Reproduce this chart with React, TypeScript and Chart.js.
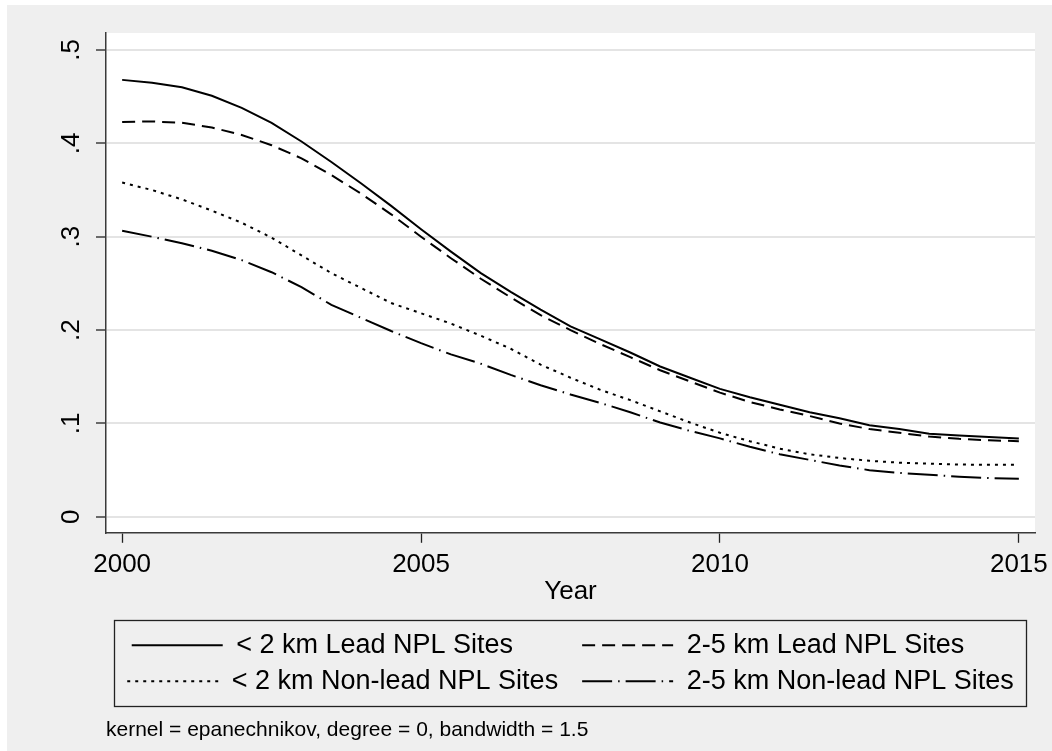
import React, { useEffect, useRef } from "react";
import { Chart, registerables } from "chart.js";

Chart.register(...registerables);

// ---- data ----
const years = [
  2000, 2000.5, 2001, 2001.5, 2002, 2002.5, 2003, 2003.5, 2004, 2004.5, 2005,
  2005.5, 2006, 2006.5, 2007, 2007.5, 2008, 2008.5, 2009, 2009.5, 2010,
  2010.5, 2011, 2011.5, 2012, 2012.5, 2013, 2013.5, 2014, 2014.5, 2015,
];
const leadNear = [
  0.468, 0.465, 0.46, 0.451, 0.438, 0.422, 0.402, 0.38, 0.357, 0.333, 0.308,
  0.284, 0.261, 0.241, 0.222, 0.204, 0.19, 0.176, 0.161, 0.149, 0.137,
  0.128, 0.12, 0.112, 0.1055, 0.098, 0.094, 0.089, 0.087, 0.0855, 0.084,
];
const leadFar = [
  0.423, 0.4235, 0.422, 0.417, 0.409, 0.398, 0.384, 0.366, 0.346, 0.324, 0.3,
  0.277, 0.255, 0.235, 0.216, 0.2, 0.185, 0.171, 0.157, 0.145, 0.133,
  0.123, 0.115, 0.108, 0.1, 0.094, 0.09, 0.086, 0.0835, 0.082, 0.081,
];
const nonLeadNear = [
  0.358, 0.35, 0.34, 0.328, 0.315, 0.299, 0.28, 0.261, 0.245, 0.229, 0.218,
  0.207, 0.194, 0.18, 0.163, 0.149, 0.136, 0.125, 0.113, 0.101, 0.09,
  0.081, 0.073, 0.067, 0.063, 0.06, 0.058, 0.057, 0.056, 0.0557, 0.0557,
];
const nonLeadFar = [
  0.3065, 0.3, 0.293, 0.285, 0.275, 0.262, 0.246, 0.227, 0.213, 0.199, 0.186,
  0.174, 0.164, 0.152, 0.141, 0.131, 0.122, 0.112, 0.101, 0.092, 0.084,
  0.075, 0.067, 0.061, 0.055, 0.05, 0.047, 0.045, 0.043, 0.0415, 0.0407,
];
const seriesLabels = [
  "< 2 km Lead NPL Sites",
  "2-5 km Lead NPL Sites",
  "< 2 km Non-lead NPL Sites",
  "2-5 km Non-lead NPL Sites",
];
const xTickValues = [2000, 2005, 2010, 2015];
const yTickValues = [0, 0.1, 0.2, 0.3, 0.4, 0.5];
const yTickLabels = ["0", ".1", ".2", ".3", ".4", ".5"];
const xTitle = "Year";
const noteText = "kernel = epanechnikov, degree = 0, bandwidth = 1.5";

// ---- styles ----
const FONT = '"Liberation Sans", Arial, Helvetica, sans-serif';
const LEGEND_SIZE = 27;
const dashes: number[][] = [[], [13, 7], [3, 5], [30, 6, 1.5, 6]];

function padLabels(labels: string[]): string[] {
  const ctx = document.createElement("canvas").getContext("2d");
  if (!ctx) return labels;
  ctx.font = `${LEGEND_SIZE}px ${FONT}`;
  const w = (s: string) => ctx.measureText(s).width;
  const col1 = Math.max(w(labels[0]), w(labels[2])) + 2 * w(" ");
  const col2 = Math.max(w(labels[1]), w(labels[3]));
  return labels.map((s, i) => {
    const target = i % 2 === 0 ? col1 : col2;
    let out = s;
    while (w(out + " ") <= target + 2) out += " ";
    return out;
  });
}

const whitePlot = {
  id: "whitePlot",
  beforeDraw(chart: any) {
    const { ctx, chartArea } = chart;
    ctx.save();
    ctx.fillStyle = "#ffffff";
    ctx.fillRect(chartArea.left, chartArea.top, chartArea.right - chartArea.left, chartArea.bottom - chartArea.top);
    ctx.restore();
  },
};

const legendFrame = {
  id: "legendFrame",
  afterDraw(chart: any) {
    const { ctx, chartArea, legend } = chart;
    if (!legend) return;
    ctx.save();
    ctx.strokeStyle = "#222";
    ctx.lineWidth = 1.3;
    ctx.strokeRect(
      Math.round(chartArea.left + 8) + 0.5,
      Math.round(legend.top - 3) + 0.5,
      Math.round(chartArea.right - chartArea.left - 17),
      Math.round(legend.height + 4)
    );
    ctx.restore();
  },
};

export default function App() {
  const ref = useRef<HTMLCanvasElement | null>(null);

  useEffect(() => {
    if (!ref.current) return;
    const series = [leadNear, leadFar, nonLeadNear, nonLeadFar];
    const padded = padLabels(seriesLabels);
    const chart = new Chart(ref.current, {
      type: "line",
      data: {
        datasets: series.map((vals, i) => ({
          label: seriesLabels[i],
          data: years.map((x, j) => ({ x, y: vals[j] })),
          borderColor: "#000",
          backgroundColor: "#000",
          borderWidth: 2,
          borderDash: dashes[i],
          borderCapStyle: "butt",
          pointRadius: 0,
          tension: 0,
          fill: false,
        })),
      },
      options: {
        responsive: false,
        animation: false,
        devicePixelRatio: 1,
        layout: { padding: { left: 30, right: 17, top: 28, bottom: 8 } },
        scales: {
          x: {
            type: "linear",
            min: 1999.73,
            max: 2015.27,
            afterBuildTicks: (s: any) => {
              s.ticks = xTickValues.map((v) => ({ value: v }));
            },
            afterFit: (s: any) => {
              s.height = 90;
              s.paddingLeft = 0;
              s.paddingRight = 0;
            },
            ticks: {
              autoSkip: false,
              maxRotation: 0,
              minRotation: 0,
              padding: 6,
              color: "#000",
              font: { family: FONT, size: 26 },
              callback: (v: any) => String(v),
            },
            grid: {
              drawOnChartArea: false,
              drawTicks: true,
              tickLength: 10,
              tickColor: "#222",
              tickWidth: 1.3,
            },
            border: { display: true, color: "#3a3a3a", width: 1.5 },
            title: {
              display: true,
              text: xTitle,
              color: "#000",
              font: { family: FONT, size: 26 },
              padding: { top: 0, bottom: 15 },
            },
          },
          y: {
            type: "linear",
            min: -0.0171,
            max: 0.5182,
            afterBuildTicks: (s: any) => {
              s.ticks = yTickValues.map((v) => ({ value: v }));
            },
            afterFit: (s: any) => {
              s.width = 69;
              s.paddingTop = 0;
              s.paddingBottom = 0;
            },
            ticks: {
              autoSkip: false,
              minRotation: 90,
              maxRotation: 90,
              crossAlign: "center",
              padding: 13,
              color: "#000",
              font: { family: FONT, size: 26 },
              callback: (_v: any, i: number) => yTickLabels[i],
            },
            grid: {
              drawOnChartArea: true,
              color: "#e4e4e4",
              lineWidth: 2,
              drawTicks: true,
              tickLength: 10,
              tickColor: "#222",
              tickWidth: 1.3,
            },
            border: { display: true, color: "#3a3a3a", width: 1.5 },
          },
        },
        plugins: {
          tooltip: { enabled: false },
          title: { display: false },
          legend: {
            display: true,
            position: "bottom",
            align: "center",
            fullSize: false,
            labels: {
              usePointStyle: true,
              pointStyle: "line",
              pointStyleWidth: 91,
              boxHeight: LEGEND_SIZE,
              padding: 9,
              color: "#000",
              font: { family: FONT, size: LEGEND_SIZE },
              generateLabels: (c: any) =>
                c.data.datasets.map((ds: any, i: number) => ({
                  text: padded[i],
                  fillStyle: "rgba(0,0,0,0)",
                  strokeStyle: "#000",
                  lineWidth: 2,
                  lineDash: ds.borderDash,
                  lineCap: "butt",
                  pointStyle: "line",
                  hidden: false,
                  datasetIndex: i,
                  fontColor: "#000",
                })),
            },
          },
          subtitle: {
            display: true,
            position: "bottom",
            align: "start",
            fullSize: false,
            text: noteText,
            color: "#000",
            font: { family: FONT, size: 21 },
            padding: { top: 13, bottom: 0 },
          },
        },
      } as any,
      plugins: [whitePlot, legendFrame],
    });
    return () => chart.destroy();
  }, []);

  return (
    <div style={{ position: "absolute", left: 0, top: 0, width: 1052, height: 751, background: "#fff", overflow: "hidden" }}>
      <canvas
        ref={ref}
        width={1045}
        height={746}
        style={{ position: "absolute", left: 7, top: 5, width: 1045, height: 746, background: "#efefef", display: "block" }}
      />
    </div>
  );
}
